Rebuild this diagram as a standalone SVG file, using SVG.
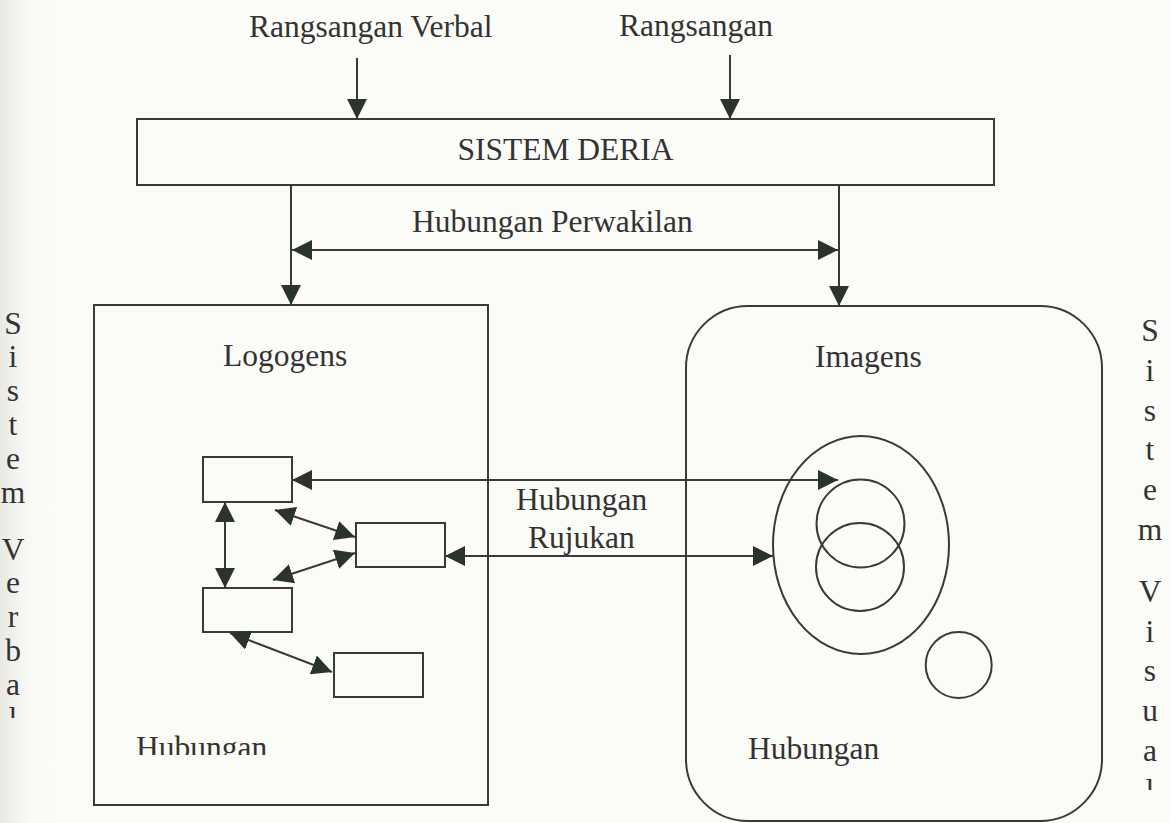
<svg xmlns="http://www.w3.org/2000/svg" width="1170" height="823" viewBox="0 0 1170 823">
<style>
.t{font-family:"Liberation Serif","Times New Roman",serif;font-size:31.5px;fill:#333}
.b{fill:none;stroke:#3a3a3a;stroke-width:2}
.c{fill:none;stroke:#3a3a3a;stroke-width:2}
</style>
<defs>
<marker id="ah" markerUnits="userSpaceOnUse" markerWidth="20" markerHeight="20" refX="20" refY="10" orient="auto-start-reverse" viewBox="0 0 20 20">
<path d="M0,0 L20,10 L0,20 z" fill="#2b332f"/>
</marker>
<linearGradient id="edge" x1="0" y1="0" x2="1" y2="0">
<stop offset="0" stop-color="#e9e9e3"/>
<stop offset="1" stop-color="#fbfbf8" stop-opacity="0"/>
</linearGradient>
<clipPath id="clipL"><rect x="100" y="700" width="300" height="55"/></clipPath>
<clipPath id="clipV"><rect x="0" y="0" width="60" height="718"/></clipPath>
<clipPath id="clipR"><rect x="1110" y="0" width="60" height="790"/></clipPath>
</defs>
<rect width="1170" height="823" fill="#fbfbf8"/>
<rect width="50" height="823" fill="url(#edge)"/>

<g id="labels-top">
<text class="t" x="249" y="37">Rangsangan Verbal</text>
<text class="t" x="619" y="36">Rangsangan</text>
</g>

<g id="sistem-deria">
<rect class="b" x="137" y="119" width="857" height="66"/>
<text class="t" x="565.5" y="160" text-anchor="middle">SISTEM DERIA</text>
</g>

<g id="label-perwakilan">
<text class="t" x="412" y="232">Hubungan Perwakilan</text>
</g>

<g id="logogens">
<rect class="b" x="94" y="305" width="394" height="500"/>
<text class="t" x="223" y="366">Logogens</text>
<text class="t" x="136" y="758" clip-path="url(#clipL)">Hubungan</text>
</g>

<g id="imagens">
<rect class="b" x="686" y="306" width="416" height="515" rx="62" ry="62"/>
<text class="t" x="815" y="367">Imagens</text>
<text class="t" x="748" y="759">Hubungan</text>
</g>

<g id="box-a"><rect class="b" x="203" y="457" width="89" height="45"/></g>
<g id="box-b"><rect class="b" x="356" y="523" width="89" height="44"/></g>
<g id="box-c"><rect class="b" x="203" y="588" width="89" height="44"/></g>
<g id="box-d"><rect class="b" x="334" y="653" width="89" height="44"/></g>

<g id="image-outer"><ellipse class="b" cx="861" cy="545" rx="88" ry="109"/></g>
<g id="image-1"><circle class="b" cx="860.5" cy="523.5" r="44"/></g>
<g id="image-2"><circle class="b" cx="860" cy="567" r="44"/></g>
<g id="image-3"><circle class="b" cx="958.7" cy="665" r="33"/></g>

<g id="label-rujukan">
<text class="t" x="516" y="510">Hubungan</text>
<text class="t" x="528" y="548">Rujukan</text>
</g>

<g id="side-verbal" clip-path="url(#clipV)">
<text class="t" x="13" y="334" text-anchor="middle">S</text>
<text class="t" x="13" y="367" text-anchor="middle">i</text>
<text class="t" x="13" y="401" text-anchor="middle">s</text>
<text class="t" x="13" y="435" text-anchor="middle">t</text>
<text class="t" x="13" y="469" text-anchor="middle">e</text>
<text class="t" x="13" y="503" text-anchor="middle">m</text>
<text class="t" x="13" y="560" text-anchor="middle">V</text>
<text class="t" x="13" y="593" text-anchor="middle">e</text>
<text class="t" x="13" y="627" text-anchor="middle">r</text>
<text class="t" x="13" y="661" text-anchor="middle">b</text>
<text class="t" x="13" y="695" text-anchor="middle">a</text>
<text class="t" x="13" y="729" text-anchor="middle">l</text>
</g>

<g id="side-visual" clip-path="url(#clipR)">
<text class="t" x="1150" y="341" text-anchor="middle">S</text>
<text class="t" x="1150" y="381" text-anchor="middle">i</text>
<text class="t" x="1150" y="421" text-anchor="middle">s</text>
<text class="t" x="1150" y="460" text-anchor="middle">t</text>
<text class="t" x="1150" y="500" text-anchor="middle">e</text>
<text class="t" x="1150" y="540" text-anchor="middle">m</text>
<text class="t" x="1150" y="602" text-anchor="middle">V</text>
<text class="t" x="1150" y="642" text-anchor="middle">i</text>
<text class="t" x="1150" y="681" text-anchor="middle">s</text>
<text class="t" x="1150" y="721" text-anchor="middle">u</text>
<text class="t" x="1150" y="761" text-anchor="middle">a</text>
<text class="t" x="1150" y="801" text-anchor="middle">l</text>
</g>

<g id="connectors">
<line class="c" x1="357" y1="58" x2="357" y2="119" marker-end="url(#ah)"/>
<line class="c" x1="730" y1="55" x2="730" y2="119" marker-end="url(#ah)"/>
<line class="c" x1="291" y1="185" x2="291" y2="305" marker-end="url(#ah)"/>
<line class="c" x1="839" y1="185" x2="839" y2="306" marker-end="url(#ah)"/>
<line class="c" x1="292" y1="250" x2="838" y2="250" marker-start="url(#ah)" marker-end="url(#ah)"/>
<line class="c" x1="225" y1="502" x2="225" y2="588" marker-start="url(#ah)" marker-end="url(#ah)"/>
<line class="c" x1="275" y1="510" x2="355" y2="537" marker-start="url(#ah)" marker-end="url(#ah)"/>
<line class="c" x1="273" y1="580" x2="355" y2="553" marker-start="url(#ah)" marker-end="url(#ah)"/>
<line class="c" x1="230" y1="633" x2="332" y2="672" marker-start="url(#ah)" marker-end="url(#ah)"/>
<line class="c" x1="292" y1="480" x2="838" y2="480" marker-start="url(#ah)" marker-end="url(#ah)"/>
<line class="c" x1="445" y1="556" x2="773" y2="556" marker-start="url(#ah)" marker-end="url(#ah)"/>
</g>
</svg>
